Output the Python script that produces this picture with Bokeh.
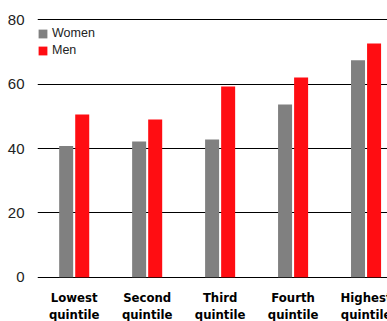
from bokeh.plotting import figure
from bokeh.models import ColumnDataSource, Range1d, FixedTicker
from bokeh.transform import dodge
from bokeh.core.properties import value
from bokeh.embed import file_html
from bokeh.resources import INLINE

categories = ["Lowest\nquintile", "Second\nquintile", "Third\nquintile", "Fourth\nquintile", "Highest\nquintile"]
women = [40.8, 42.2, 42.8, 53.7, 67.4]
men = [50.6, 49.0, 59.3, 62.1, 72.6]
y_ticks = [0, 20, 40, 60, 80]

src = ColumnDataSource(dict(idx=list(range(len(categories))), cat=categories, women=women, men=men,
                            zero=[0] * len(categories)))

p = figure(width=387, height=321, output_backend="svg", toolbar_location=None,
           x_range=Range1d(-0.503, 4.294), y_range=Range1d(-13.77, 86.0),
           x_axis_type=None, min_border_left=37, min_border_right=0,
           min_border_top=0, min_border_bottom=0)
p.outline_line_color = None
p.background_fill_color = "white"
p.border_fill_color = "white"

p.yaxis.ticker = FixedTicker(ticks=y_ticks)
p.yaxis.axis_line_color = None
p.yaxis.major_tick_line_color = None
p.yaxis.minor_tick_line_color = None
p.yaxis.major_label_standoff = 7
p.yaxis.major_label_text_font = "Liberation Sans"
p.yaxis.major_label_text_font_size = "15px"
p.yaxis.major_label_text_color = "#222222"
p.ygrid.grid_line_color = "black"
p.ygrid.grid_line_width = 1
p.xgrid.grid_line_color = None

p.vbar(x=dodge("idx", -0.11), top="women", width=0.192, source=src,
       fill_color="#808080", line_color=None, legend_label="Women")
p.vbar(x=dodge("idx", 0.11), top="men", width=0.192, source=src,
       fill_color="#FF0D12", line_color=None, legend_label="Men")

p.text(x="idx", y="zero", text="cat", source=src, y_offset=13,
       text_align="center", text_baseline="top",
       text_font=value("'DejaVu Sans Condensed', 'Liberation Sans Narrow', Roboto, sans-serif"),
       text_font_style="bold",
       text_font_size="13px", text_line_height=1.12, text_color="black")

lg = p.legend[0]
lg.location = (0, 321 - 29 - 28)
lg.margin = 0
lg.padding = 0
lg.border_line_color = None
lg.background_fill_alpha = 0
lg.glyph_width = 11
lg.glyph_height = 11
lg.label_height = 11
lg.spacing = 3
lg.label_standoff = 4
lg.label_text_font = "Liberation Sans"
lg.label_text_font_size = "12.5px"
lg.label_text_color = "#222222"
lg.label_text_baseline = "middle"

open("out.html", "w").write(file_html(p, INLINE))
